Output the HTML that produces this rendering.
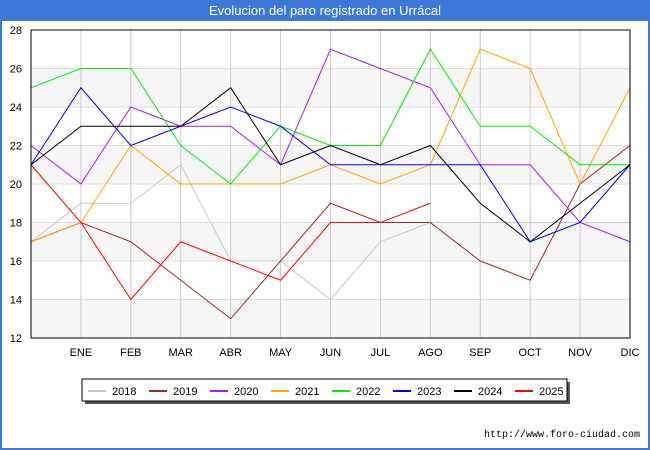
<!DOCTYPE html>
<html><head><meta charset="utf-8"><style>
body{margin:0;width:650px;height:450px;background:#fff;font-family:"Liberation Sans",sans-serif;overflow:hidden;position:relative}
#title{position:absolute;left:0;top:0;width:650px;height:21px;background:#3b78d8;color:#fff;font-size:13px;text-align:center;line-height:21px}
#frame{position:absolute;left:0;top:21px;width:646px;height:427px;border-left:2px solid #3b78d8;border-right:2px solid #3b78d8;border-bottom:2px solid #3b78d8;box-sizing:content-box}
</style></head><body>
<div id="title">Evolucion del paro registrado en Urrácal</div>
<svg id="chart" width="650" height="450" style="position:absolute;left:0;top:0"></svg>
<script>
const months=["","ENE","FEB","MAR","ABR","MAY","JUN","JUL","AGO","SEP","OCT","NOV","DIC"];
const yTicks=[12,14,16,18,20,22,24,26,28];
const years=["2018","2019","2020","2021","2022","2023","2024","2025"];
const colors=["#c8c8c8","#a52a2a","#a020f0","#ffa500","#00ee00","#0000ff","#000000","#ff0000"];
const s2018=[17,19,19,21,16,16,14,17,18,18,18,18,18];
const s2019=[17,18,17,15,13,16,19,18,18,16,15,20,22];
const s2020=[22,20,24,23,23,21,27,26,25,21,21,18,17];
const s2021=[17,18,22,20,20,20,21,20,21,27,26,20,25];
const s2022=[25,26,26,22,20,23,22,22,27,23,23,21,21];
const s2023=[21,25,22,23,24,23,21,21,21,21,17,18,21];
const s2024=[21,23,23,23,25,21,22,21,22,19,17,19,21];
const s2025=[21,18,14,17,16,15,18,18,19];
const series=[s2018,s2019,s2020,s2021,s2022,s2023,s2024,s2025];
const svg=document.getElementById('chart');const NS="http://www.w3.org/2000/svg";
const L=31,R=630,T=30,B=338;
const x=i=>L+(R-L)*i/12;
const y=v=>B-(v-12)/16*(B-T);
function mk(t,a){const e=document.createElementNS(NS,t);for(const k in a)e.setAttribute(k,a[k]);svg.appendChild(e);return e;}
for(let v=12;v<28;v+=4){const b=mk('rect',{x:L,y:y(v+2),width:R-L,height:y(v)-y(v+2),fill:'#f6f6f6'});

}
yTicks.forEach(v=>{const g=mk('line',{x1:L,x2:R,y1:y(v),y2:y(v),stroke:'#dddddd'});


const t=mk('text',{x:22,y:y(v)+4,'font-size':11,'text-anchor':'end',fill:'#000','font-family':'Liberation Sans,sans-serif'});t.textContent=v;

});
months.forEach((m,i)=>{if(i>0){const g=mk('line',{x1:x(i),x2:x(i),y1:T,y2:B,stroke:'#cccccc'});

}
const t=mk('text',{x:x(i),y:356,'font-size':11,'text-anchor':'middle',fill:'#000','font-family':'Liberation Sans,sans-serif'});t.textContent=m;

});
series.forEach((s,k)=>{const p=mk('polyline',{points:s.map((v,i)=>x(i)+','+y(v)).join(' '),fill:'none',stroke:colors[k],'stroke-width':1});

});
const fr=mk('rect',{x:L,y:T,width:R-L,height:B-T,fill:'none',stroke:'#000','stroke-width':1});


const sh=mk('rect',{x:85,y:382,width:485,height:22,fill:'#555'});


const lb=mk('rect',{x:82,y:379,width:485,height:22,fill:'#fff',stroke:'#000'});


years.forEach((yr,k)=>{const lx=88+k*61;
const l=mk('line',{x1:lx,x2:lx+18,y1:391,y2:391,stroke:colors[k],'stroke-width':2});


const t=mk('text',{x:lx+24,y:395,'font-size':11,fill:'#000','font-family':'Liberation Sans,sans-serif'});t.textContent=yr;

});
const u=mk('text',{x:640,y:437,'font-size':10,'text-anchor':'end',fill:'#000','font-family':'Liberation Mono,monospace'});u.textContent='http://www.foro-ciudad.com';


</script>
<div id="frame"></div>
</body></html>
